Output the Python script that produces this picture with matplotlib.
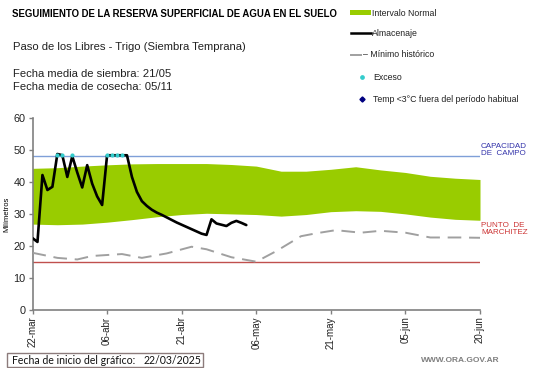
import matplotlib
matplotlib.use("Agg")
import matplotlib.pyplot as plt
import numpy as np
from matplotlib.patches import Rectangle
from matplotlib.lines import Line2D

# ---------------- data ----------------
tick_days = [0, 15, 30, 45, 60, 75, 90]
tick_labels = ["22-mar", "06-abr", "21-abr", "06-may", "21-may", "05-jun", "20-jun"]

band_days = [0, 5, 10, 15, 20, 25, 30, 35, 40, 45, 50, 55, 60, 65, 70, 75, 80, 85, 90]
band_upper = [44.3, 44.5, 45.0, 45.4, 45.7, 45.8, 45.8, 45.8, 45.5, 45.0, 43.4, 43.4,
              44.0, 44.8, 43.8, 43.0, 41.8, 41.2, 40.8]
band_lower = [26.8, 26.6, 26.8, 27.4, 28.2, 29.1, 29.8, 30.2, 30.0, 29.8, 29.3, 29.8,
              30.7, 31.0, 30.8, 30.0, 29.0, 28.3, 28.0]

alm_days = list(range(0, 44))
alm_values = [22.4, 21.2, 42.2, 37.5, 38.5, 48.8, 48.4, 41.6, 48.1, 43.0,
              38.3, 45.3, 39.5, 35.5, 32.8, 48.4, 48.4, 48.4, 48.4, 48.4,
              41.6, 36.9, 34.0, 32.5, 31.3, 30.4, 29.7, 28.9, 28.1, 27.3,
              26.6, 25.9, 25.2, 24.5, 23.8, 23.4, 28.3, 27.0, 26.6, 26.2,
              27.2, 27.8, 27.2, 26.5]

exceso_days = [5, 6, 8, 15, 16, 17, 18]
exceso_values = [48.5, 48.5, 48.5, 48.5, 48.5, 48.5, 48.5]

min_days = [0, 5, 9, 12, 18, 22, 27, 32, 35, 40, 45, 49, 54, 57, 61, 66, 70, 75, 80, 86, 90]
min_values = [17.8, 16.2, 15.7, 16.8, 17.4, 16.2, 17.6, 19.7, 18.9, 16.4, 15.0, 18.3,
              23.0, 23.9, 24.9, 24.1, 24.7, 24.1, 22.6, 22.6, 22.5]

capacidad = 48.3
marchitez = 14.9

# ---------------- figure ----------------
W, H = 541, 368
fig = plt.figure(figsize=(W / 100, H / 100), dpi=100)
plt.rcParams['font.family'] = ['Liberation Sans', 'DejaVu Sans']

def fx(px):
    return px / W

def fy(py):
    return 1 - py / H

x0, x1, ytop, ybot = 32.5, 480, 118.3, 309.5
ax = fig.add_axes([fx(x0), fy(ybot), fx(x1) - fx(x0), fy(ytop) - fy(ybot)])
ax.set_xlim(0, 90)
ax.set_ylim(0, 60)

ax.fill_between(band_days, band_lower, band_upper, color="#99CC00", lw=0, zorder=1)
ax.axhline(capacidad, color="#7F9FD8", lw=1.0, zorder=2)
ax.axhline(marchitez, color="#C0504D", lw=1.0, zorder=2)
ax.plot(min_days, min_values, color="#A0A0A0", lw=1.4, dashes=(7, 4), zorder=3)
ax.plot(alm_days, alm_values, color="black", lw=1.9, zorder=4,
        solid_joinstyle="round", solid_capstyle="round")
ax.scatter(exceso_days, exceso_values, s=9, color="#33CCCC", zorder=5, lw=0)

for s in ["top", "right"]:
    ax.spines[s].set_visible(False)
for s in ["left", "bottom"]:
    ax.spines[s].set_color("#808080")
    ax.spines[s].set_linewidth(1.2)

ax.set_xticks(tick_days)
ax.set_xticklabels(tick_labels, rotation=90, fontsize=7, color="#222222")
ax.set_yticks([0, 10, 20, 30, 40, 50, 60])
ax.tick_params(axis="both", direction="out", length=3, color="#808080", width=1, pad=2)
ax.tick_params(axis="y", labelsize=7.8, labelcolor="#222222")
ax.set_ylabel("Milímetros", fontsize=5.5, labelpad=2)

# labels right of plot
fig.text(fx(481), fy(150), "CAPACIDAD\nDE  CAMPO", fontsize=5.8, color="#3333AA",
         va="center", ha="left", linespacing=1.1)
fig.text(fx(481), fy(229), "PUNTO  DE\nMARCHITEZ", fontsize=5.8, color="#CC3333",
         va="center", ha="left", linespacing=1.1)

# titles
fig.text(fx(12), fy(14), "SEGUIMIENTO DE LA RESERVA SUPERFICIAL DE AGUA EN EL SUELO",
         fontsize=6.9, fontweight="bold", va="center", ha="left")
fig.text(fx(13), fy(47), "Paso de los Libres - Trigo (Siembra Temprana)",
         fontsize=8.1, va="center", ha="left", color="#222222")
fig.text(fx(13), fy(74), "Fecha media de siembra: 21/05",
         fontsize=8.1, va="center", ha="left", color="#222222")
fig.text(fx(13), fy(86.5), "Fecha media de cosecha: 05/11",
         fontsize=8.1, va="center", ha="left", color="#222222")

# legend (manual)
fig.patches.append(Rectangle((fx(350), fy(15)), fx(371) - fx(350), fy(10) - fy(15),
                             transform=fig.transFigure, color="#99CC00", lw=0))
fig.lines.append(Line2D([fx(351), fx(371)], [fy(33.3), fy(33.3)], transform=fig.transFigure,
                        color="black", lw=1.8))
fig.lines.append(Line2D([fx(351), fx(361)], [fy(54.5), fy(54.5)], transform=fig.transFigure,
                        color="#A0A0A0", lw=1.4))
fig.lines.append(Line2D([fx(361.7)], [fy(77.3)], transform=fig.transFigure,
                        color="#33CCCC", marker="o", ms=2.4, lw=0))
fig.lines.append(Line2D([fx(361.7)], [fy(99)], transform=fig.transFigure,
                        color="#000080", marker="D", ms=2.6, lw=0))
lg_fs = 6.3
fig.text(fx(372), fy(13), "Intervalo Normal", fontsize=lg_fs, va="center", color="#222222")
fig.text(fx(372), fy(33.3), "Almacenaje", fontsize=lg_fs, va="center", color="#222222")
fig.text(fx(363), fy(54.5), "– Mínimo histórico", fontsize=lg_fs, va="center", color="#222222")
fig.text(fx(373), fy(77.3), "Exceso", fontsize=lg_fs, va="center", color="#222222")
fig.text(fx(373), fy(99), "Temp <3°C fuera del período habitual", fontsize=lg_fs,
         va="center", color="#222222")

# bottom box
fig.patches.append(Rectangle((fx(6.7), fy(367.3)), fx(203) - fx(6.7), fy(352.7) - fy(367.3),
                             transform=fig.transFigure, fill=False, ec="#8C7B7B", lw=1))
fig.text(fx(12), fy(360), "Fecha de inicio del gráfico:", fontsize=7.6,
         family=["Lato", "DejaVu Sans"], va="center", ha="left", color="#111111")
fig.text(fx(144), fy(360), "22/03/2025", fontsize=7.6,
         family=["Lato", "DejaVu Sans"], va="center", ha="left", color="#111111")

fig.text(fx(500), fy(360), "WWW.ORA.GOV.AR", fontsize=6.0, fontweight="bold",
         va="center", ha="right", color="#7F7F7F")

fig.savefig("out.png", dpi=100)
